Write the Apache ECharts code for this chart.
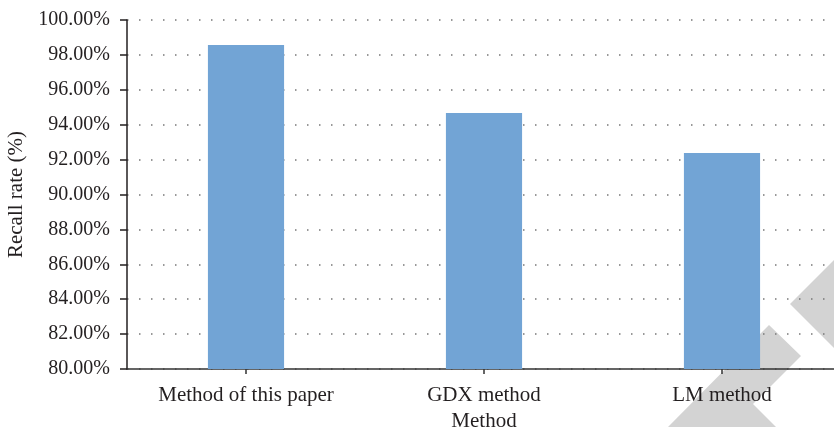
<!DOCTYPE html>
<html>
<head>
<meta charset="utf-8">
<script src="https://cdn.jsdelivr.net/npm/echarts@6/dist/echarts.min.js"></script>
<style>
  html, body { margin: 0; padding: 0; background: #fff; }
  #chart { width: 834px; height: 427px; }
</style>
</head>
<body>
<div id="chart"></div>
<script>
// Recall rate of each method
const categories = ['Method of this paper', 'GDX method', 'LM method'];
const recallRates = [98.57, 94.67, 92.38];

// Value axis range and step
const yMin = 80;
const yMax = 100;
const yStep = 2;

const FONT = 'Liberation Serif';
const TEXT = '#231f20';

const chart = echarts.init(document.getElementById('chart'));

chart.setOption({
  animation: false,
  backgroundColor: '#ffffff',
  grid: { left: 127, top: 20, right: -7, bottom: 58, containLabel: false, outerBoundsMode: 'none' },
  graphic: [
    {
      type: 'polygon', z: -10, silent: true,
      shape: { points: [[769, 325], [801, 356], [753, 404], [776, 427], [668, 427]] },
      style: { fill: '#d3d3d3' }
    },
    {
      type: 'polygon', z: -10, silent: true,
      shape: { points: [[790, 304], [834, 260], [834, 348]] },
      style: { fill: '#d3d3d3' }
    }
  ],
  xAxis: {
    type: 'category',
    data: categories,
    name: 'Method',
    nameLocation: 'middle',
    nameGap: 42,
    nameTextStyle: { fontFamily: FONT, fontSize: 21, color: TEXT },
    axisLine: { show: true, lineStyle: { color: '#333', width: 1.5 } },
    axisTick: { show: true, alignWithLabel: true, length: 5, lineStyle: { color: '#333', width: 1.5 } },
    axisLabel: { fontFamily: FONT, fontSize: 21, color: TEXT, margin: 16 },
    splitLine: { show: false }
  },
  yAxis: {
    type: 'value',
    min: yMin,
    max: yMax,
    interval: yStep,
    name: 'Recall rate (%)',
    nameLocation: 'middle',
    nameRotate: 90,
    nameGap: 96,
    nameTextStyle: { fontFamily: FONT, fontSize: 21, color: TEXT },
    axisLine: { show: true, lineStyle: { color: '#231f20', width: 1.5 } },
    axisTick: { show: true, length: 7, lineStyle: { color: '#231f20', width: 1.5 } },
    axisLabel: {
      fontFamily: FONT, fontSize: 20, color: TEXT, margin: 17,
      formatter: v => v.toFixed(2) + '%'
    },
    splitLine: { show: true, lineStyle: { color: '#777', width: 1.5, type: [1.5, 10.5] } }
  },
  series: [{
    type: 'bar',
    data: recallRates,
    barWidth: '32%',
    itemStyle: { color: '#72a4d5' }
  }]
});
</script>
</body>
</html>
